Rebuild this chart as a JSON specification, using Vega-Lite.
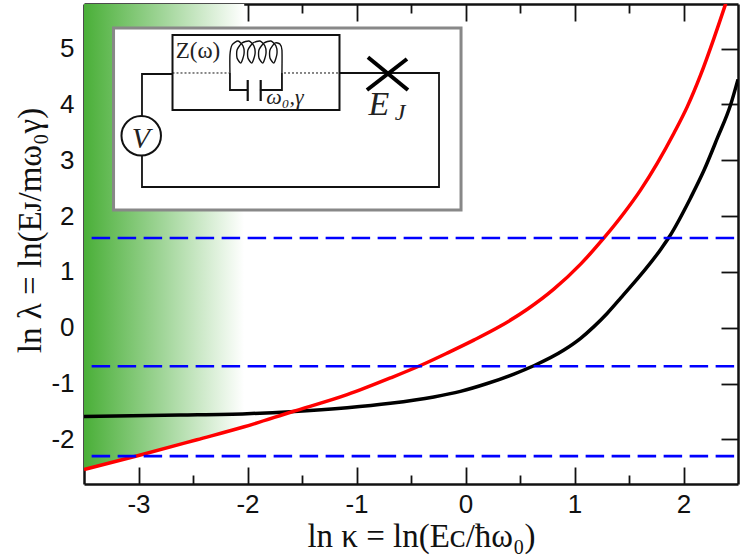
{"$schema":"https://vega.github.io/schema/vega-lite/v6.json","width":654,"height":480,"autosize":{"type":"none"},"padding":{"left":84,"top":4,"right":9,"bottom":71},"background":"white","config":{"view":{"stroke":null},"axis":{"grid":false,"zindex":1,"domainColor":"#111111","domainWidth":2.5,"tickColor":"#111111","tickWidth":1.8,"tickSize":-17,"labelFont":"Liberation Sans","labelFontSize":26,"labelColor":"#111111","titleFontWeight":"normal","titleFont":"Liberation Serif","titleFontSize":33,"titleColor":"#111111"}},"datasets":{"red":[{"x":-3.5,"y":-2.54},{"x":-3.0,"y":-2.29},{"x":-2.464,"y":-2.007},{"x":-2.03,"y":-1.775},{"x":-1.598,"y":-1.51},{"x":-1.086,"y":-1.2},{"x":-0.689,"y":-0.9},{"x":-0.398,"y":-0.663},{"x":-0.168,"y":-0.454},{"x":0.076,"y":-0.222},{"x":0.321,"y":0.03},{"x":0.567,"y":0.33},{"x":0.81,"y":0.69},{"x":1.056,"y":1.14},{"x":1.27,"y":1.608},{"x":1.454,"y":2.055},{"x":1.607,"y":2.47},{"x":1.76,"y":2.95},{"x":1.913,"y":3.489},{"x":2.036,"y":3.966},{"x":2.158,"y":4.534},{"x":2.28,"y":5.19},{"x":2.387,"y":5.806}],"green":[{"x":-3.5,"y":-2.54},{"x":-3.0,"y":-2.29},{"x":-2.464,"y":-2.007},{"x":-2.03,"y":-1.775}],"black":[{"x":-3.5,"y":-1.59},{"x":-2.617,"y":-1.565},{"x":-2.005,"y":-1.54},{"x":-1.607,"y":-1.505},{"x":-1.086,"y":-1.435},{"x":-0.689,"y":-1.355},{"x":-0.291,"y":-1.24},{"x":-0.046,"y":-1.14},{"x":0.199,"y":-1.0},{"x":0.444,"y":-0.83},{"x":0.627,"y":-0.681},{"x":0.903,"y":-0.4},{"x":1.056,"y":-0.19},{"x":1.178,"y":0.02},{"x":1.301,"y":0.26},{"x":1.423,"y":0.53},{"x":1.797,"y":1.42},{"x":1.867,"y":1.62},{"x":2.066,"y":2.33},{"x":2.188,"y":2.82},{"x":2.311,"y":3.4},{"x":2.433,"y":4.0},{"x":2.5,"y":4.45}],"blue":[{"s":"a","x":-3.43,"y":1.607},{"s":"a","x":2.5,"y":1.607},{"s":"b","x":-3.43,"y":-0.69},{"s":"b","x":2.5,"y":-0.69},{"s":"c","x":-3.43,"y":-2.3},{"s":"c","x":2.5,"y":-2.3}],"wires":[{"s":"l","i":1,"x":-2.688,"y":4.546},{"s":"l","i":2,"x":-2.968,"y":4.546},{"s":"l","i":3,"x":-2.968,"y":3.793},{"s":"r","i":1,"x":-2.968,"y":3.076},{"s":"r","i":2,"x":-2.968,"y":2.521},{"s":"r","i":3,"x":-0.243,"y":2.521},{"s":"r","i":4,"x":-0.243,"y":4.564},{"s":"r","i":5,"x":-1.156,"y":4.564},{"s":"cl","i":1,"x":-2.161,"y":4.564},{"s":"cl","i":2,"x":-2.161,"y":4.259},{"s":"cl","i":3,"x":-2.0,"y":4.259},{"s":"cr","i":1,"x":-1.886,"y":4.259},{"s":"cr","i":2,"x":-1.684,"y":4.259},{"s":"cr","i":3,"x":-1.684,"y":4.564}],"plates":[{"s":"p1","i":1,"x":-1.998,"y":4.438},{"s":"p1","i":2,"x":-1.998,"y":4.062},{"s":"p2","i":1,"x":-1.879,"y":4.438},{"s":"p2","i":2,"x":-1.879,"y":4.062}],"dots":[{"s":"a","x":-2.688,"y":4.564},{"s":"a","x":-2.17,"y":4.564},{"s":"b","x":-1.665,"y":4.564},{"s":"b","x":-1.156,"y":4.564}],"coil":[{"i":1,"x":-2.161,"y":4.564},{"i":2,"x":-2.161,"y":4.886},{"i":3,"x":-2.142,"y":5.065},{"i":4,"x":-2.087,"y":5.137},{"i":5,"x":-2.041,"y":5.047},{"i":6,"x":-2.032,"y":4.904},{"i":7,"x":-2.06,"y":4.743},{"i":8,"x":-2.096,"y":4.832},{"i":9,"x":-2.096,"y":4.976},{"i":10,"x":-2.051,"y":5.101},{"i":11,"x":-1.986,"y":5.137},{"i":12,"x":-1.941,"y":5.047},{"i":13,"x":-1.931,"y":4.904},{"i":14,"x":-1.959,"y":4.743},{"i":15,"x":-1.996,"y":4.832},{"i":16,"x":-1.996,"y":4.976},{"i":17,"x":-1.95,"y":5.101},{"i":18,"x":-1.886,"y":5.137},{"i":19,"x":-1.84,"y":5.047},{"i":20,"x":-1.831,"y":4.904},{"i":21,"x":-1.858,"y":4.743},{"i":22,"x":-1.895,"y":4.832},{"i":23,"x":-1.895,"y":4.976},{"i":24,"x":-1.849,"y":5.101},{"i":25,"x":-1.785,"y":5.137},{"i":26,"x":-1.739,"y":5.047},{"i":27,"x":-1.73,"y":4.904},{"i":28,"x":-1.757,"y":4.743},{"i":29,"x":-1.794,"y":4.832},{"i":30,"x":-1.794,"y":4.976},{"i":31,"x":-1.748,"y":5.101},{"i":32,"x":-1.703,"y":5.083},{"i":33,"x":-1.684,"y":4.976},{"i":34,"x":-1.684,"y":4.564}],"cross":[{"s":"a","i":1,"x":-0.904,"y":4.259},{"s":"a","i":2,"x":-0.537,"y":4.815},{"s":"b","i":1,"x":-0.895,"y":4.845},{"s":"b","i":2,"x":-0.528,"y":4.259}],"italics":[{"t":"ω₀,γ","x":-1.656,"y":4.008,"z":22},{"t":"E","x":-0.794,"y":3.811,"z":34},{"t":"J","x":-0.601,"y":3.722,"z":24},{"t":"V","x":-2.977,"y":3.22,"z":30}]},"layer":[{"data":{"name":"green"},"mark":{"type":"area","color":{"gradient":"linear","x1":0,"y1":0,"x2":1,"y2":0,"stops":[{"offset":0,"color":"#4aaf38"},{"offset":0.5,"color":"#a2d69a"},{"offset":1,"color":"#ffffff"}]}},"encoding":{"x":{"field":"x","type":"quantitative","scale":{"domain":[-3.5,2.5],"nice":false,"zero":false},"axis":{"orient":"bottom","values":[-3,-2,-1,0,1,2],"labelExpr":"''+datum.value","labelPadding":24,"title":"ln κ = ln(Eᴄ/ħω₀)","titleX":337,"titleY":62,"titleBaseline":"alphabetic"}},"y":{"field":"y","type":"quantitative","scale":{"domain":[-2.8,5.8],"nice":false,"zero":false},"axis":{"orient":"left","values":[-2,-1,0,1,2,3,4,5],"labelExpr":"''+datum.value","labelPadding":27,"title":"ln λ = ln(Eᴊ/mω₀γ)","titleX":-44,"titleY":226,"titleBaseline":"alphabetic"}},"y2":{"datum":5.8}}},{"data":{"name":"black"},"mark":{"type":"line","color":"#000000","strokeWidth":3.5,"clip":true,"interpolate":"monotone"},"encoding":{"x":{"field":"x","type":"quantitative","scale":{"domain":[-3.5,2.5],"nice":false,"zero":false},"axis":{"orient":"top","values":[-3,-2,-1,0,1,2],"labels":false,"title":null}},"y":{"field":"y","type":"quantitative","scale":{"domain":[-2.8,5.8],"nice":false,"zero":false},"axis":{"orient":"right","values":[-2,-1,0,1,2,3,4,5],"labels":false,"title":null}}}},{"data":{"name":"red"},"mark":{"type":"line","color":"#ff0000","strokeWidth":3.5,"clip":true,"interpolate":"monotone"},"encoding":{"x":{"field":"x","type":"quantitative","scale":{"domain":[-3.5,2.5],"nice":false,"zero":false},"axis":{"orient":"bottom","values":[-2.5,-1.5,-0.5,0.5,1.5],"labels":false,"title":null,"domain":false,"tickSize":-9}},"y":{"field":"y","type":"quantitative","scale":{"domain":[-2.8,5.8],"nice":false,"zero":false},"axis":null}}},{"data":{"name":"blue"},"mark":{"type":"line","color":"#0000ff","strokeWidth":2.6,"strokeDash":[18.5,7.5]},"encoding":{"x":{"field":"x","type":"quantitative","scale":{"domain":[-3.5,2.5],"nice":false,"zero":false},"axis":{"orient":"top","values":[-2.5,-1.5,-0.5,0.5,1.5],"labels":false,"title":null,"domain":false,"tickSize":-9}},"y":{"field":"y","type":"quantitative","scale":{"domain":[-2.8,5.8],"nice":false,"zero":false},"axis":null},"detail":{"field":"s"}}},{"data":{"values":[{"x":-3.229,"x2":-0.041,"y":5.37,"y2":2.109}]},"mark":{"type":"rect","fill":"#ffffff","stroke":"#888888","strokeWidth":3},"encoding":{"x":{"field":"x","type":"quantitative","scale":{"domain":[-3.5,2.5],"nice":false,"zero":false},"axis":null},"x2":{"field":"x2"},"y":{"field":"y","type":"quantitative","scale":{"domain":[-2.8,5.8],"nice":false,"zero":false},"axis":null},"y2":{"field":"y2"}}},{"data":{"values":[{"x":-2.688,"x2":-1.156,"y":5.244,"y2":3.901}]},"mark":{"type":"rect","fill":"#ffffff","stroke":"#111111","strokeWidth":2},"encoding":{"x":{"field":"x","type":"quantitative","scale":{"domain":[-3.5,2.5],"nice":false,"zero":false},"axis":null},"x2":{"field":"x2"},"y":{"field":"y","type":"quantitative","scale":{"domain":[-2.8,5.8],"nice":false,"zero":false},"axis":null},"y2":{"field":"y2"}}},{"data":{"name":"wires"},"mark":{"type":"line","color":"#111111","strokeWidth":1.8},"encoding":{"x":{"field":"x","type":"quantitative","scale":{"domain":[-3.5,2.5],"nice":false,"zero":false},"axis":null},"y":{"field":"y","type":"quantitative","scale":{"domain":[-2.8,5.8],"nice":false,"zero":false},"axis":null},"detail":{"field":"s"},"order":{"field":"i"}}},{"data":{"name":"plates"},"mark":{"type":"line","color":"#111111","strokeWidth":2.2},"encoding":{"x":{"field":"x","type":"quantitative","scale":{"domain":[-3.5,2.5],"nice":false,"zero":false},"axis":null},"y":{"field":"y","type":"quantitative","scale":{"domain":[-2.8,5.8],"nice":false,"zero":false},"axis":null},"detail":{"field":"s"},"order":{"field":"i"}}},{"data":{"name":"dots"},"mark":{"type":"line","color":"#111111","strokeWidth":1,"strokeDash":[2,2]},"encoding":{"x":{"field":"x","type":"quantitative","scale":{"domain":[-3.5,2.5],"nice":false,"zero":false},"axis":null},"y":{"field":"y","type":"quantitative","scale":{"domain":[-2.8,5.8],"nice":false,"zero":false},"axis":null},"detail":{"field":"s"}}},{"data":{"name":"coil"},"mark":{"type":"line","color":"#111111","strokeWidth":1.4,"interpolate":"cardinal","tension":0.3},"encoding":{"x":{"field":"x","type":"quantitative","scale":{"domain":[-3.5,2.5],"nice":false,"zero":false},"axis":null},"y":{"field":"y","type":"quantitative","scale":{"domain":[-2.8,5.8],"nice":false,"zero":false},"axis":null},"order":{"field":"i"}}},{"data":{"name":"cross"},"mark":{"type":"line","color":"#000000","strokeWidth":4},"encoding":{"x":{"field":"x","type":"quantitative","scale":{"domain":[-3.5,2.5],"nice":false,"zero":false},"axis":null},"y":{"field":"y","type":"quantitative","scale":{"domain":[-2.8,5.8],"nice":false,"zero":false},"axis":null},"detail":{"field":"s"},"order":{"field":"i"}}},{"data":{"values":[{"x":-2.975,"y":3.44}]},"mark":{"type":"point","shape":"circle","size":1560,"fill":"#ffffff","fillOpacity":1,"stroke":"#111111","strokeWidth":2,"opacity":1},"encoding":{"x":{"field":"x","type":"quantitative","scale":{"domain":[-3.5,2.5],"nice":false,"zero":false},"axis":null},"y":{"field":"y","type":"quantitative","scale":{"domain":[-2.8,5.8],"nice":false,"zero":false},"axis":null}}},{"data":{"values":[{"t":"Z(ω)","x":-2.454,"y":4.832}]},"mark":{"type":"text","font":"Liberation Serif","fontSize":23,"color":"#222222","baseline":"alphabetic"},"encoding":{"x":{"field":"x","type":"quantitative","scale":{"domain":[-3.5,2.5],"nice":false,"zero":false},"axis":null},"y":{"field":"y","type":"quantitative","scale":{"domain":[-2.8,5.8],"nice":false,"zero":false},"axis":null},"text":{"field":"t"}}},{"data":{"name":"italics"},"mark":{"type":"text","font":"Liberation Serif","fontStyle":"italic","color":"#222222","baseline":"alphabetic"},"encoding":{"x":{"field":"x","type":"quantitative","scale":{"domain":[-3.5,2.5],"nice":false,"zero":false},"axis":null},"y":{"field":"y","type":"quantitative","scale":{"domain":[-2.8,5.8],"nice":false,"zero":false},"axis":null},"text":{"field":"t"},"size":{"field":"z","type":"quantitative","scale":null}}}],"resolve":{"axis":{"x":"independent","y":"independent"}}}
